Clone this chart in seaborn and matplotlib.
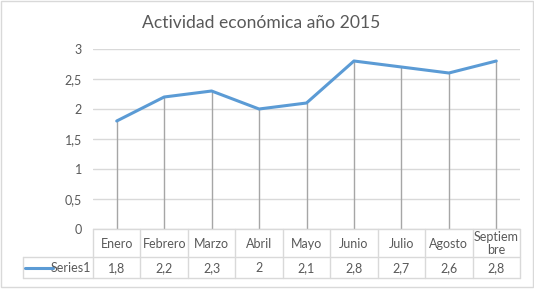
import matplotlib
matplotlib.use("Agg")
import matplotlib.pyplot as plt
import matplotlib.transforms as mtransforms
from matplotlib.lines import Line2D
from matplotlib.patches import Rectangle
import seaborn as sns
import pandas as pd

months = ["Enero", "Febrero", "Marzo", "Abril", "Mayo", "Junio", "Julio", "Agosto", "Septiembre"]
month_labels = ["Enero", "Febrero", "Marzo", "Abril", "Mayo", "Junio", "Julio", "Agosto", "Septiem\nbre"]
values = [1.8, 2.2, 2.3, 2.0, 2.1, 2.8, 2.7, 2.6, 2.8]
value_labels = ["1,8", "2,2", "2,3", "2", "2,1", "2,8", "2,7", "2,6", "2,8"]
y_ticks = [0, 0.5, 1, 1.5, 2, 2.5, 3]
y_tick_labels = ["0", "0,5", "1", "1,5", "2", "2,5", "3"]
series_name = "Series1"
title = "Actividad económica año 2015"

sns.set_theme(style="white")
plt.rcParams["font.family"] = ["Lato", "DejaVu Sans"]

W, H = 534, 289
fig = plt.figure(figsize=(W / 100, H / 100), dpi=100)
fig.patch.set_facecolor("white")

def fx(px):
    return px / W

def fy(py):
    return (H - py) / H

ax_l, ax_r, ax_t, ax_b = 93, 520, 49, 229
ax = fig.add_axes([fx(ax_l), fy(ax_b), fx(ax_r) - fx(ax_l), fy(ax_t) - fy(ax_b)])

TXT = "#595959"
BLUE = "#5B9BD5"
GRID = "#d9d9d9"
DROP = "#a6a6a6"

df = pd.DataFrame({"mes": months, "valor": values})
df["pos"] = range(len(months))

# drop lines
ax.vlines(df["pos"], 0, df["valor"], colors=DROP, linewidth=1.0, zorder=2)
sns.lineplot(data=df, x="pos", y="valor", ax=ax, color=BLUE, linewidth=2.2,
             sort=False, zorder=3)

ax.set_xlim(-0.5, len(months) - 0.5)
ax.set_ylim(0, 3)
ax.set_yticks(y_ticks)
ax.set_yticklabels(y_tick_labels, color=TXT, fontsize=9)
ax.tick_params(axis="y", length=0, pad=8)
ax.set_xticks([])
ax.set_xlabel("")
ax.set_ylabel("")
for s in ax.spines.values():
    s.set_visible(False)
ax.grid(axis="y", color=GRID, linewidth=1.0, zorder=0)
ax.grid(axis="x", visible=False)
ax.set_axisbelow(True)

# title
fig.text(fx(261), fy(23), title, ha="center", va="center", fontsize=12.6, color=TXT)

# data table
bt = mtransforms.blended_transform_factory(ax.transData, fig.transFigure)
row_top, row_mid, row_bot = 229, 257, 278
key_left = 23
n = len(months)
lc = GRID
lw = 1.0
# horizontal lines
fig.add_artist(Line2D([-0.5, n - 0.5], [fy(row_top)] * 2, transform=bt, color=lc, lw=lw))
fig.add_artist(Line2D([fx(key_left), fx(ax_r)], [fy(row_mid)] * 2, transform=fig.transFigure, color=lc, lw=lw))
fig.add_artist(Line2D([fx(key_left), fx(ax_r)], [fy(row_bot)] * 2, transform=fig.transFigure, color=lc, lw=lw))
# vertical lines
for k in range(n + 1):
    fig.add_artist(Line2D([k - 0.5, k - 0.5], [fy(row_top), fy(row_bot)], transform=bt, color=lc, lw=lw))
fig.add_artist(Line2D([fx(key_left)] * 2, [fy(row_mid), fy(row_bot)], transform=fig.transFigure, color=lc, lw=lw))
# texts
for i, (lab, vl) in enumerate(zip(month_labels, value_labels)):
    fig.text(i, fy((row_top + row_mid) / 2 + 0.5), lab, transform=bt, ha="center", va="center",
             fontsize=9, color=TXT, linespacing=1.15)
    fig.text(i, fy((row_mid + row_bot) / 2 + 0.5), vl, transform=bt, ha="center", va="center",
             fontsize=9, color=TXT)
# legend key
key_y = (row_mid + row_bot) / 2 + 0.5
fig.add_artist(Line2D([fx(25), fx(53)], [fy(key_y)] * 2, transform=fig.transFigure, color=BLUE, lw=2.2))
fig.text(fx(91), fy(key_y), series_name, ha="right", va="center", fontsize=9, color=TXT)

# outer chart border
fig.add_artist(Rectangle((fx(1), fy(287)), fx(532), fy(1) - fy(287), transform=fig.transFigure,
                         fill=False, edgecolor=GRID, lw=1.0))

fig.savefig("out.png", dpi=100, facecolor="white")
